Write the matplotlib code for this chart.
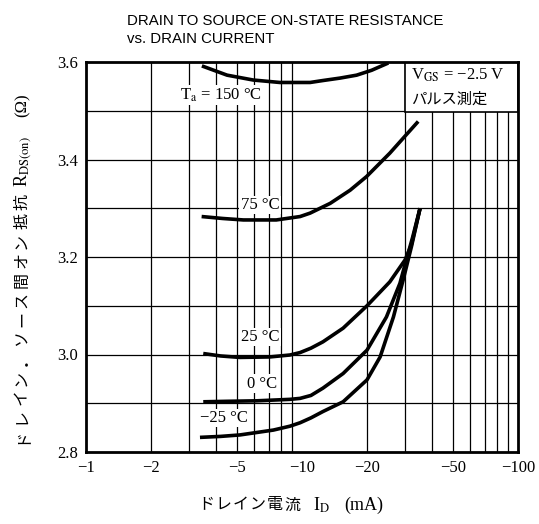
import numpy as np
import matplotlib
matplotlib.use("Agg")
import matplotlib.pyplot as plt
from matplotlib.patches import Rectangle
from matplotlib.ticker import FixedLocator, NullFormatter, NullLocator

plt.rcParams['font.family'] = ['Liberation Serif', 'Noto Sans CJK JP', 'DejaVu Sans']
plt.rcParams['mathtext.fontset'] = 'stix'

# drain current (mA) and on-state resistance (ohm) per ambient temperature
id_150 = [-3.44, -4.5, -5.95, -7.9, -10.9, -12.5, -15, -17.9, -21, -25.1]
r_150 = [3.592, 3.573, 3.563, 3.558, 3.558, 3.562, 3.567, 3.573, 3.583, 3.598]

id_75 = [-3.43, -4.3, -5.35, -7.6, -9.8, -10.9, -13.5, -16.7, -19.9, -25.5, -30, -34.5]
r_75 = [3.283, 3.279, 3.276, 3.276, 3.283, 3.290, 3.310, 3.337, 3.365, 3.413, 3.448, 3.478]

id_25 = [-3.49, -4.2, -5.16, -7.1, -8.8, -9.8, -11, -12.5, -15.5, -20, -25.5, -30, -32.1, -35.2]
r_25 = [3.002, 2.997, 2.994, 2.995, 2.999, 3.004, 3.013, 3.026, 3.054, 3.100, 3.149, 3.194, 3.225, 3.300]

id_0 = [-3.49, -4.5, -6.17, -8.8, -9.8, -11, -12.5, -15.5, -20, -24.6, -28.4, -30.4, -32.5, -35.2]
r_0 = [2.903, 2.904, 2.905, 2.908, 2.910, 2.916, 2.931, 2.961, 3.009, 3.077, 3.146, 3.194, 3.240, 3.300]

id_m25 = [-3.37, -4.2, -5.16, -7.37, -8.8, -9.8, -11, -12.5, -15.5, -20, -23, -26.5, -29.4, -32.1, -35.2]
r_m25 = [2.830, 2.832, 2.835, 2.845, 2.853, 2.860, 2.870, 2.883, 2.903, 2.948, 2.995, 3.077, 3.153, 3.221, 3.300]

x_ticks = [-1, -2, -5, -10, -20, -50, -100]
y_ticks = [2.8, 3.0, 3.2, 3.4, 3.6]

W, H = 539, 524
fig = plt.figure(figsize=(W/100, H/100), dpi=100)
ax = fig.add_axes([86/W, 1-452/H, 432/W, 390/H])

ax.set_xscale('log')
ax.set_xlim(1, 100)
ax.set_ylim(2.8, 3.6)

# grid lines (every unit on log axis, every 0.1 ohm)
grid_x = [m * d for d in (1, 10) for m in range(2, 10)]
grid_y = np.arange(2.9, 3.55, 0.1)
for gx in grid_x:
    ax.axvline(gx, color='black', lw=0.9, zorder=1)
for gy in grid_y:
    ax.axhline(gy, color='black', lw=0.9, zorder=1)

for cur, res in [(id_150, r_150), (id_75, r_75), (id_25, r_25), (id_0, r_0), (id_m25, r_m25)]:
    ax.plot(-np.array(cur), res, color='black', lw=2.6, solid_capstyle='butt', zorder=3)

ax.xaxis.set_major_locator(FixedLocator([-v for v in x_ticks]))
ax.set_xticklabels(['\u2212%d' % -v for v in x_ticks])
ax.xaxis.set_minor_locator(NullLocator())
ax.xaxis.set_minor_formatter(NullFormatter())
ax.set_yticks(y_ticks)
ax.set_yticklabels(['%.1f' % v for v in y_ticks])
ax.tick_params(length=0, labelsize=12, pad=6)
for s in ax.spines.values():
    s.set_linewidth(2.0)
    s.set_zorder(5)

lab = dict(fontsize=12, ha='center', va='center', zorder=4,
           bbox=dict(facecolor='white', edgecolor='none', pad=1.0))
ax.text(4.2, 3.532, 'T$_\\mathrm{a}$ = 150 \u00b0C', **lab)
ax.text(6.4, 3.307, '75 \u00b0C', **lab)
ax.text(6.4, 3.036, '25 \u00b0C', **lab)
ax.text(6.5, 2.940, '0 \u00b0C', **lab)
ax.text(4.36, 2.870, '\u221225 \u00b0C', **lab)

# condition box
ax.add_patch(Rectangle((0.738, 0.872), 0.262, 0.128, transform=ax.transAxes,
                       facecolor='white', edgecolor='black', lw=1.2, zorder=4))
ax.text(0.753, 0.967, 'V$_\\mathrm{GS}$ = \u22122.5 V', transform=ax.transAxes,
        fontsize=12, ha='left', va='center', zorder=6)
ax.text(0.753, 0.904, 'パルス測定', transform=ax.transAxes,
        family=['Noto Sans CJK JP'], fontsize=11, ha='left', va='center', zorder=6)

fig.text(127/W, 1-14/H, 'DRAIN TO SOURCE ON-STATE RESISTANCE\nvs. DRAIN CURRENT',
         family=['Liberation Sans'], fontsize=10.8, ha='left', va='top', linespacing=1.4)

# x axis title, Japanese characters spaced out as in the print
jp = dict(family=['Noto Sans CJK JP'], fontsize=11.5, ha='center', va='center')
for i, ch in enumerate('ドレイン電流'):
    fig.text((206 + 17.2 * i) / W, 1 - 505/H, ch, **jp)
fig.text(313/W, 1 - 505/H, 'I$_\\mathrm{D}$', family=['Liberation Serif'], fontsize=13,
         ha='left', va='center')
fig.text(364/W, 1 - 505/H, '(mA)', family=['Liberation Serif'], fontsize=13,
         ha='center', va='center')

# y axis title
for i, ch in enumerate('ドレイン・ソース間オン抵抗'):
    fig.text(22/W, 1 - (436 - 19.5 * i)/H, ch, rotation=90, **jp)
fig.text(23/W, 1 - 187/H, 'R$_\\mathrm{DS(on)}$', family=['Liberation Serif'], fontsize=13,
         rotation=90, ha='center', va='bottom')
fig.text(23/W, 1 - 105/H, '(\u03a9)', family=['Liberation Serif'], fontsize=12,
         rotation=90, ha='center', va='center')

fig.savefig('out.png', dpi=100)
